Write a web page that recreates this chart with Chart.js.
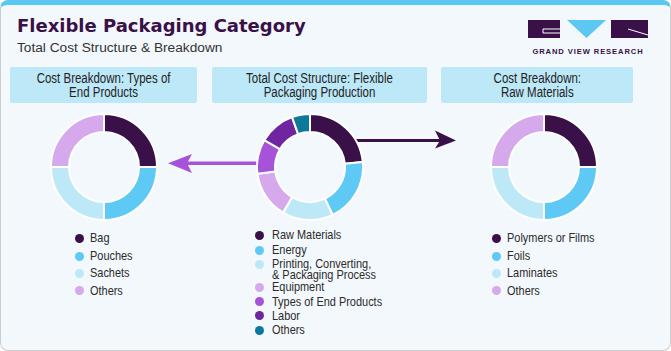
<!DOCTYPE html>
<html>
<head>
<meta charset="utf-8">
<script src="https://cdn.jsdelivr.net/npm/chart.js@4"></script>
<style>
  html, body { margin:0; padding:0; background:#ffffff; }
  #frame { position:absolute; left:0; top:0; width:671px; height:351px; box-sizing:border-box;
    background:#f3f8fc; border:1.5px solid #cdcdcd; border-top:5px solid #5cc7f0; border-radius:8px; overflow:hidden; }
  .abs { position:absolute; }
  #title { left:17px; top:15px; font-family:"DejaVu Sans", sans-serif; font-weight:bold; font-size:18px; color:#3a1048; white-space:nowrap; }
  #subtitle { left:17px; top:40px; font-family:"Liberation Sans", Arial, sans-serif; font-size:13.7px; color:#333; white-space:nowrap; }
  .box { background:#bde8f8; border-radius:2px; top:67px; height:36px; display:flex; align-items:center; justify-content:center; }
  .box span { display:inline-block; text-align:center; font-family:"Liberation Sans", Arial, sans-serif; font-size:14px; line-height:14.4px; color:#222;
    transform:scaleX(0.82); transform-origin:center; white-space:nowrap; }
  .leg { font-family:"Liberation Sans", Arial, sans-serif; font-size:13.2px; color:#2b2b2b; white-space:nowrap; line-height:14px;
    transform:scaleX(0.83); transform-origin:left center; }
  .dot { position:absolute; width:9px; height:9px; border-radius:50%; }
  canvas { position:absolute; }
</style>
</head>
<body>
<div id="frame"></div>
<div id="title" class="abs">Flexible Packaging Category</div>
<div id="subtitle" class="abs">Total Cost Structure &amp; Breakdown</div>

<svg class="abs" style="left:0;top:0" width="671" height="351">
  <!-- logo -->
  <rect x="528" y="20" width="32" height="18" fill="#3a1048"/>
  <path d="M543 29 H560 M543 29 V33 H560" stroke="#ffffff" stroke-width="1" fill="none"/>
  <polygon points="567,20 606,20 586.5,38" fill="#5cc7f0"/>
  <rect x="611" y="20" width="37" height="18" fill="#3a1048"/>
  <path d="M628 29 L648 35" stroke="#ffffff" stroke-width="1" fill="none"/>
  <text x="588" y="53.5" text-anchor="middle" font-family="Liberation Sans, Arial, sans-serif" font-weight="bold" font-size="7.6" letter-spacing="0.9" fill="#3a1048">GRAND VIEW RESEARCH</text>
  <!-- arrows -->
  <line x1="186" y1="163.3" x2="258" y2="163.3" stroke="#a652d9" stroke-width="3.5"/>
  <polygon points="168,163.3 192,154 187,163.3 192,173" fill="#a652d9"/>
  <line x1="354" y1="140.6" x2="442" y2="140.6" stroke="#3a1048" stroke-width="3"/>
  <polygon points="456,140.6 435,130.5 440,140.6 435,148.5" fill="#3a1048"/>
</svg>

<div class="abs box" style="left:10px;width:187px;"><span>Cost Breakdown: Types of<br>End Products</span></div>
<div class="abs box" style="left:212px;width:215px;"><span>Total Cost Structure: Flexible<br>Packaging Production</span></div>
<div class="abs box" style="left:441px;width:192px;"><span>Cost Breakdown:<br>Raw Materials</span></div>

<canvas id="c1" width="108" height="108" style="left:50px;top:113px;width:108px;height:108px"></canvas>
<canvas id="c2" width="108" height="108" style="left:256px;top:113px;width:108px;height:108px"></canvas>
<canvas id="c3" width="108" height="108" style="left:490px;top:113px;width:108px;height:108px"></canvas>

<div id="legends"></div>

<script>
// ---- data ----
const endProductLabels = ['Bag', 'Pouches', 'Sachets', 'Others'];
const endProductValues = [25, 25, 25, 25];
const endProductColors = ['#3a1048', '#5ec9f4', '#bde8f8', '#d6a9ec'];

const costLabels = ['Raw Materials', 'Energy', 'Printing, Converting,\n& Packaging Process', 'Equipment', 'Types of End Products', 'Labor', 'Others'];
const costValues = [23.5, 19.5, 15.5, 14.5, 10.5, 11, 5.5];
const costColors = ['#3a1048', '#5ec9f4', '#bde8f8', '#d6a9ec', '#a652d9', '#6f25a1', '#0c789c'];

const rawLabels = ['Polymers or Films', 'Foils', 'Laminates', 'Others'];
const rawValues = [25, 25, 25, 25];
const rawColors = ['#3a1048', '#5ec9f4', '#bde8f8', '#d6a9ec'];

function donut(id, labels, values, colors) {
  new Chart(document.getElementById(id), {
    type: 'doughnut',
    data: { labels: labels, datasets: [{ data: values, backgroundColor: colors, borderColor: '#ffffff', borderWidth: 2 }] },
    options: {
      responsive: false, animation: false, cutout: '66%',
      layout: { padding: 0 },
      plugins: { legend: { display: false }, tooltip: { enabled: false } }
    }
  });
}
donut('c1', endProductLabels, endProductValues, endProductColors);
donut('c2', costLabels, costValues, costColors);
donut('c3', rawLabels, rawValues, rawColors);

// ---- legends (HTML text) ----
const legHost = document.getElementById('legends');
function legend(labels, colors, dotX, textX, centers) {
  labels.forEach((lab, i) => {
    const cy = centers[i];
    const d = document.createElement('div');
    d.className = 'dot';
    d.style.left = (dotX - 4.5) + 'px';
    d.style.top = (cy - 4.5) + 'px';
    d.style.background = colors[i];
    legHost.appendChild(d);
    const lines = lab.split('\n');
    const t = document.createElement('div');
    t.className = 'abs leg';
    t.style.left = textX + 'px';
    if (lines.length > 1) {
      t.style.lineHeight = '10.5px';
      t.style.top = (cy - 5) + 'px';
      t.innerHTML = lines.map(s => s.replace(/&/g, '&amp;')).join('<br>');
    } else {
      t.style.top = (cy - 7) + 'px';
      t.textContent = lab;
    }
    legHost.appendChild(t);
  });
}
legend(endProductLabels, endProductColors, 79, 90, [238.3, 256, 273.3, 290.7]);
legend(costLabels, costColors, 259.5, 271.5, [235, 250, 264.3, 287.3, 301.7, 315.7, 330.3]);
legend(rawLabels, rawColors, 496, 506.5, [238.3, 256, 273.3, 290.7]);
</script>
</body>
</html>
